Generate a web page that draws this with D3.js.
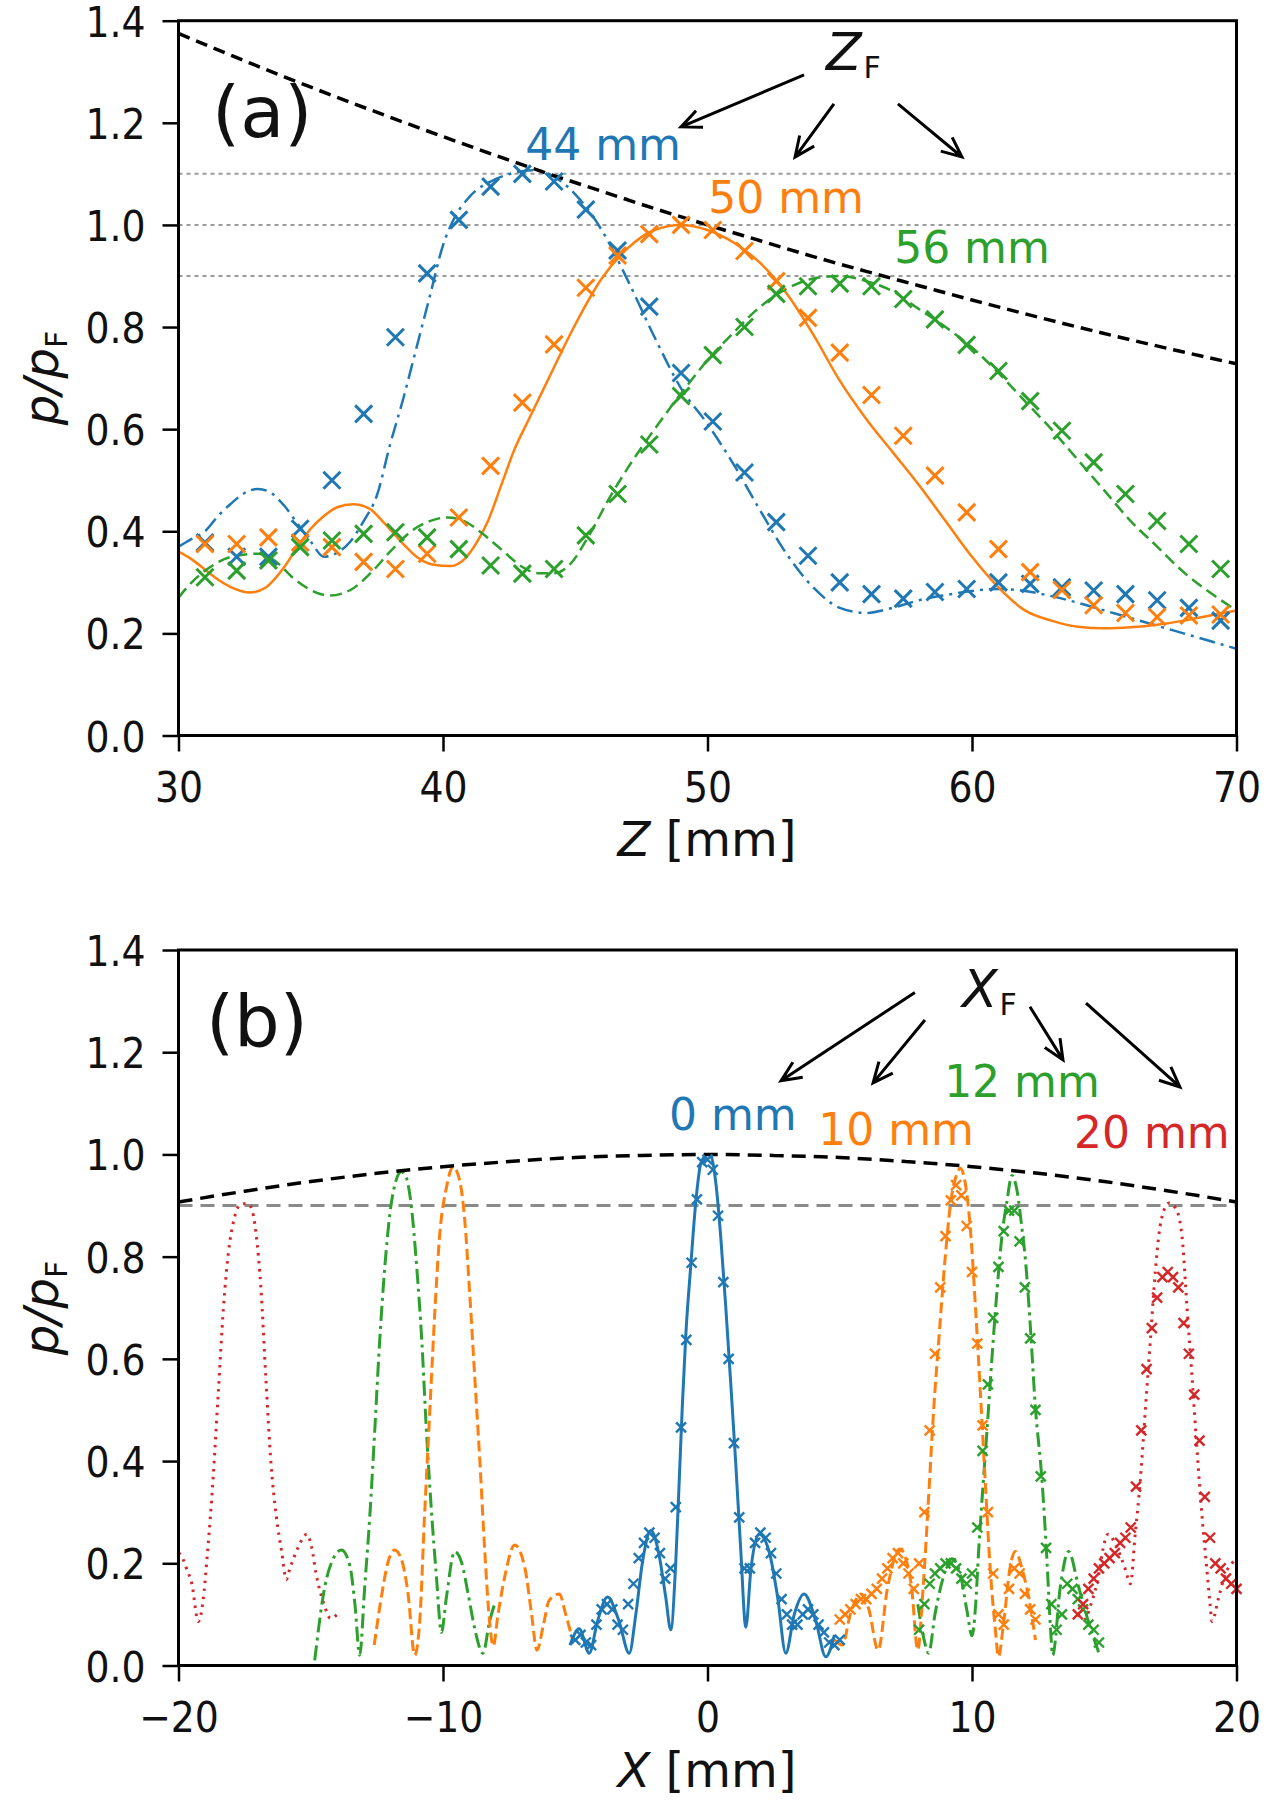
<!DOCTYPE html>
<html><head><meta charset="utf-8">
<script src="https://cdn.jsdelivr.net/npm/d3@7"></script>
<style>body{margin:0;background:#fff}svg{display:block}</style>
</head><body>
<svg id="c" width="1266" height="1800"></svg>
<script>
// ---------------- Panel (a) data ----------------
const yTicks = [0, 0.2, 0.4, 0.6, 0.8, 1.0, 1.2, 1.4];
const zTicks = [30, 40, 50, 60, 70];
const zLabels = ["44 mm", "50 mm", "56 mm"];
const refLevelsA = [1.1, 1.0, 0.9];

const envZ = [30,32,34,36,38,40,42,44,46,48,50,52,54,56,58,60,62,64,66,68,70];
const envP = [1.375,1.332,1.290,1.250,1.211,1.173,1.136,1.100,1.066,1.032,1.000,0.969,0.938,0.909,0.881,0.853,0.826,0.800,0.775,0.751,0.728];

const blueSimZ = [30,30.5,31,31.5,32,32.5,33,33.5,34,34.5,35,35.5,36,36.5,37,37.5,38,38.5,39,39.5,40,40.5,41,42,43,43.5,44,45,46,47,48,49,50,51,52,53,54,55,56,57,58,59,60,61,62,63,64,65,66,67,68,69,70];
const blueSimP = [0.37,0.385,0.40,0.43,0.455,0.475,0.483,0.475,0.45,0.415,0.38,0.35,0.358,0.38,0.42,0.47,0.57,0.66,0.76,0.86,0.96,1.02,1.055,1.09,1.105,1.107,1.10,1.06,0.99,0.89,0.78,0.68,0.61,0.53,0.44,0.355,0.29,0.25,0.24,0.25,0.265,0.275,0.283,0.287,0.283,0.273,0.26,0.245,0.23,0.215,0.2,0.185,0.17];

const orangeSimZ = [30,30.5,31,31.5,32,32.7,33.3,34,34.5,35,35.5,36,36.6,37.2,37.8,38.5,39,39.6,40.3,40.8,41.3,41.7,42.2,42.7,43.25,44,45,46,47,48,49,50,51,52,53,54,55,56,57,58,59,60,61,62,63,64,65,66,67,68,69,70];
const orangeSimP = [0.36,0.345,0.325,0.305,0.29,0.28,0.29,0.33,0.37,0.405,0.43,0.447,0.453,0.445,0.415,0.375,0.35,0.335,0.332,0.345,0.38,0.42,0.49,0.56,0.62,0.70,0.805,0.895,0.955,0.99,1.0,0.99,0.965,0.925,0.865,0.785,0.695,0.62,0.555,0.49,0.42,0.35,0.29,0.245,0.225,0.213,0.21,0.212,0.217,0.225,0.235,0.245];

const greenSimZ = [30,30.5,31.2,32,33,33.7,34.3,35,35.7,36.5,37.3,38,38.8,39.5,40.15,40.8,41.5,42.3,43,43.6,44.2,44.8,45.5,46.3,47,48,49,50,51,52,53,54,55,56,57,58,59,60,61,62,63,64,65,66,67,68,69,70];
const greenSimP = [0.27,0.30,0.33,0.35,0.356,0.34,0.31,0.285,0.274,0.285,0.32,0.36,0.40,0.42,0.427,0.42,0.395,0.36,0.33,0.318,0.318,0.335,0.39,0.466,0.525,0.60,0.67,0.735,0.79,0.84,0.875,0.895,0.90,0.89,0.87,0.835,0.80,0.76,0.71,0.655,0.60,0.54,0.48,0.42,0.37,0.32,0.28,0.245];

const measZ = [31.0,32.2,33.4,34.6,35.8,37.0,38.2,39.4,40.6,41.8,43.0,44.2,45.4,46.6,47.8,49.0,50.2,51.4,52.6,53.8,55.0,56.2,57.4,58.6,59.8,61.0,62.2,63.4,64.6,65.8,67.0,68.2,69.4];
const blueMeasA = [0.378,0.35,0.35,0.405,0.50,0.63,0.78,0.905,1.01,1.075,1.10,1.085,1.03,0.95,0.84,0.71,0.615,0.515,0.418,0.352,0.30,0.277,0.268,0.281,0.287,0.30,0.297,0.29,0.284,0.277,0.265,0.25,0.225];
const orangeMeasA = [0.375,0.375,0.388,0.378,0.369,0.34,0.326,0.356,0.427,0.528,0.652,0.766,0.877,0.94,0.982,1.0,0.99,0.949,0.89,0.818,0.75,0.667,0.587,0.509,0.437,0.365,0.32,0.285,0.255,0.24,0.232,0.235,0.237];
const greenMeasA = [0.31,0.323,0.343,0.369,0.382,0.395,0.398,0.388,0.365,0.333,0.317,0.326,0.392,0.473,0.57,0.665,0.745,0.80,0.865,0.88,0.885,0.88,0.855,0.815,0.765,0.714,0.655,0.597,0.535,0.473,0.42,0.375,0.326];

// ---------------- Panel (b) data ----------------
const xTicksB = [-20, -10, 0, 10, 20];
const xLabels = ["0 mm", "10 mm", "12 mm", "20 mm"];
const refLevelB = 0.9;

const envXb = [-20,-17.5,-15,-12.5,-10,-7.5,-5,-2.5,0,2.5,5,7.5,10,12.5,15,17.5,20];
const envPb = [0.907,0.928,0.947,0.963,0.976,0.986,0.994,0.998,1.0,0.998,0.994,0.986,0.976,0.963,0.947,0.928,0.907];

const blueSimX = [-5.2,-4.85,-4.47,-4.16,-3.78,-3.34,-2.96,-2.71,-2.46,-2.14,-1.83,-1.58,-1.39,-1.2,-1.07,-0.95,-0.82,-0.63,-0.44,-0.25,0,0.13,0.32,0.5,0.69,0.88,1.07,1.26,1.45,1.64,1.95,2.33,2.65,2.96,3.28,3.65,4.1,4.47,4.8];
const blueSimPb = [0.04,0.072,0.024,0.086,0.134,0.086,0.024,0.10,0.202,0.264,0.216,0.134,0.07,0.202,0.36,0.51,0.647,0.784,0.908,0.983,1.0,0.997,0.942,0.839,0.702,0.551,0.394,0.223,0.075,0.188,0.257,0.223,0.134,0.024,0.10,0.14,0.086,0.017,0.06];

const orangeSimLX = [-12.6,-12.33,-12.08,-11.83,-11.58,-11.32,-11.07,-10.88,-10.7,-10.5,-10.3,-10.13,-9.87,-9.62,-9.37,-9.18,-9.0,-8.8,-8.6,-8.42,-8.24,-8.1,-7.92,-7.66,-7.29,-6.9,-6.65,-6.45,-6.2,-5.99,-5.6,-5.36,-5.1];
const orangeSimLP = [0.04,0.134,0.202,0.226,0.209,0.14,0.02,0.086,0.29,0.497,0.70,0.839,0.935,0.976,0.949,0.873,0.736,0.565,0.394,0.223,0.086,0.038,0.10,0.175,0.236,0.19,0.10,0.03,0.08,0.127,0.14,0.10,0.05];
const orangeSimRX = [4.8,5.1,5.4,5.8,6.1,6.45,6.8,7.27,7.7,7.95,8.15,8.36,8.55,8.74,8.99,9.18,9.43,9.56,9.75,9.94,10.13,10.32,10.5,10.69,10.88,11.0,11.2,11.45,11.64,11.9,12.14,12.4];
const orangeSimRP = [0.05,0.04,0.10,0.14,0.11,0.03,0.15,0.228,0.16,0.03,0.15,0.33,0.50,0.634,0.80,0.90,0.962,0.973,0.942,0.853,0.702,0.531,0.36,0.188,0.072,0.017,0.086,0.195,0.223,0.188,0.134,0.05];

const greenSimLX = [-14.85,-14.47,-14.15,-13.84,-13.52,-13.33,-13.15,-12.96,-12.77,-12.58,-12.4,-12.2,-12.0,-11.77,-11.58,-11.39,-11.2,-11.0,-10.8,-10.63,-10.44,-10.25,-10.06,-9.87,-9.56,-9.3,-9.05,-8.8,-8.49,-8.24,-8.05];
const greenSimLP = [0.01,0.154,0.209,0.226,0.195,0.12,0.02,0.154,0.29,0.46,0.63,0.78,0.887,0.95,0.966,0.955,0.90,0.784,0.634,0.462,0.305,0.175,0.065,0.134,0.223,0.202,0.14,0.072,0.024,0.086,0.12];
const greenSimRX = [7.95,8.15,8.36,8.6,8.9,9.24,9.55,9.8,10.0,10.13,10.25,10.38,10.57,10.76,10.95,11.13,11.32,11.51,11.7,11.9,12.0,12.2,12.39,12.65,12.84,12.96,13.05,13.34,13.65,14.03,14.4,14.8];
const greenSimRP = [0.12,0.06,0.024,0.1,0.17,0.209,0.18,0.11,0.058,0.113,0.223,0.325,0.462,0.606,0.736,0.84,0.908,0.959,0.93,0.85,0.805,0.668,0.51,0.36,0.2,0.08,0.02,0.154,0.223,0.154,0.086,0.024];

const redSimLX = [-20,-19.9,-19.7,-19.5,-19.25,-19.07,-18.9,-18.7,-18.5,-18.3,-18.12,-17.9,-17.7,-17.45,-17.26,-17.07,-16.88,-16.7,-16.5,-16.3,-16.1,-15.92,-15.8,-15.6,-15.4,-15.15,-14.96,-14.8,-14.5,-14.25,-14.0];
const redSimLP = [0.22,0.216,0.19,0.161,0.086,0.127,0.223,0.36,0.53,0.70,0.805,0.873,0.90,0.904,0.897,0.846,0.736,0.565,0.394,0.291,0.223,0.168,0.188,0.216,0.24,0.257,0.23,0.18,0.12,0.092,0.10];
const redSimRX = [14.0,14.25,14.5,14.8,14.96,15.15,15.4,15.6,15.8,15.99,16.17,16.36,16.55,16.74,16.93,17.06,17.25,17.45,17.7,17.94,18.13,18.32,18.5,18.7,18.88,19.0,19.07,19.33,19.58,19.83,20.0];
const redSimRP = [0.10,0.09,0.12,0.18,0.23,0.257,0.24,0.216,0.188,0.16,0.257,0.36,0.497,0.634,0.77,0.84,0.89,0.905,0.895,0.84,0.70,0.565,0.428,0.29,0.188,0.12,0.086,0.134,0.18,0.2,0.21];

const blueMeasX = [-5.0,-4.8,-4.6,-4.4,-4.2,-4.0,-3.8,-3.6,-3.4,-3.2,-3.0,-2.8,-2.6,-2.4,-2.2,-2.0,-1.8,-1.6,-1.4,-1.2,-1.0,-0.8,-0.6,-0.4,-0.2,0.0,0.2,0.4,0.6,0.8,1.0,1.2,1.4,1.6,1.8,2.0,2.2,2.4,2.6,2.8,3.0,3.2,3.4,3.6,3.8,4.0,4.2,4.4,4.6,4.8,5.0];
const blueMeasB = [0.05,0.06,0.045,0.04,0.08,0.11,0.12,0.11,0.08,0.07,0.12,0.16,0.21,0.24,0.26,0.25,0.22,0.17,0.19,0.31,0.466,0.637,0.788,0.912,0.985,0.99,0.97,0.88,0.75,0.60,0.435,0.29,0.19,0.19,0.24,0.26,0.25,0.22,0.18,0.13,0.10,0.08,0.08,0.10,0.11,0.10,0.08,0.065,0.045,0.04,0.05];
const orangeMeasX = [5.0,5.2,5.4,5.6,5.8,6.0,6.2,6.4,6.6,6.8,7.0,7.2,7.4,7.6,7.8,8.0,8.2,8.4,8.6,8.8,9.0,9.2,9.4,9.6,9.8,10.0,10.2,10.4,10.6,10.8,11.0,11.2,11.4,11.6,11.8,12.0,12.2,12.4];
const orangeMeasB = [0.09,0.10,0.11,0.12,0.13,0.13,0.14,0.15,0.17,0.19,0.21,0.22,0.20,0.18,0.15,0.20,0.30,0.46,0.61,0.74,0.84,0.91,0.94,0.92,0.86,0.77,0.63,0.47,0.30,0.18,0.10,0.08,0.15,0.19,0.18,0.14,0.11,0.09];
const greenMeasX = [8.0,8.2,8.4,8.6,8.8,9.0,9.2,9.4,9.6,9.8,10.0,10.2,10.4,10.6,10.8,11.0,11.2,11.4,11.6,11.8,12.0,12.2,12.4,12.6,12.8,13.0,13.2,13.4,13.6,13.8,14.0,14.2,14.4,14.6,14.8];
const greenMeasB = [0.07,0.12,0.16,0.18,0.19,0.20,0.20,0.19,0.17,0.16,0.18,0.27,0.42,0.55,0.68,0.78,0.85,0.89,0.89,0.83,0.74,0.64,0.50,0.37,0.23,0.12,0.07,0.10,0.16,0.15,0.13,0.11,0.08,0.07,0.045];
const redMeasX = [14.0,14.2,14.4,14.6,14.8,15.0,15.2,15.4,15.6,15.8,16.0,16.2,16.4,16.6,16.8,17.0,17.2,17.4,17.6,17.8,18.0,18.2,18.4,18.6,18.8,19.0,19.2,19.4,19.6,19.8,20.0];
const redMeasB = [0.10,0.12,0.15,0.17,0.19,0.20,0.21,0.22,0.24,0.25,0.27,0.35,0.46,0.58,0.66,0.72,0.76,0.77,0.76,0.74,0.67,0.61,0.53,0.44,0.33,0.25,0.20,0.19,0.17,0.16,0.15];

// ---------------- drawing ----------------
const COL = {blue:'#1f77b4', orange:'#ff7f0e', green:'#2ca02c', red:'#d62728'};
const svg = d3.select('#c');
const L = 178.5, R = 1236.5;
const tickFont = "'DejaVu Sans Condensed','DejaVu Sans',sans-serif";
const textFont = "'DejaVu Sans',sans-serif";
const zip = (a, b) => a.map((v, i) => [v, b[i]]);

function makePanel(id, top, bottom, xDom, xTicks) {
  const x = d3.scaleLinear().domain(xDom).range([L, R]);
  const y = d3.scaleLinear().domain([0, 1.4]).range([bottom, top]);
  const g = svg.append('g');
  g.append('clipPath').attr('id', id).append('rect')
    .attr('x', L).attr('y', top).attr('width', R - L).attr('height', bottom - top);
  const plot = g.append('g').attr('clip-path', `url(#${id})`);
  const ax = g.append('g').attr('transform', `translate(0,${bottom})`)
    .call(d3.axisBottom(x).tickValues(xTicks).tickFormat(d3.format('d')).tickSize(16).tickPadding(21));
  const ay = g.append('g').attr('transform', `translate(${L},0)`)
    .call(d3.axisLeft(y).tickValues(yTicks).tickFormat(d3.format('.1f')).tickSize(16).tickPadding(17));
  [ax, ay].forEach(a => {
    a.select('.domain').remove();
    a.selectAll('line').attr('stroke', '#000').attr('stroke-width', 2.5);
    a.selectAll('text').attr('fill', '#111')
      .style('font-family', tickFont).style('font-size', '42px').style('font-stretch', 'condensed');
  });
  ay.selectAll('text').attr('dy', '0.37em');
  const over = g.append('g');
  g.append('rect').attr('x', L).attr('y', top).attr('width', R - L).attr('height', bottom - top)
    .attr('fill', 'none').attr('stroke', '#000').attr('stroke-width', 3);
  return {x, y, g, plot, over};
}

function drawLine(p, pts, color, width, dash) {
  const line = d3.line().x(d => p.x(d[0])).y(d => p.y(d[1])).curve(d3.curveMonotoneX);
  p.plot.append('path').datum(pts).attr('d', line).attr('fill', 'none')
    .attr('stroke', color).attr('stroke-width', width)
    .attr('stroke-dasharray', dash || null).attr('stroke-linecap', 'butt');
}
function drawCrosses(p, pts, color, s, w) {
  p.over.append('g').selectAll('path').data(pts).join('path')
    .attr('d', d => { const cx = p.x(d[0]), cy = p.y(d[1]);
      return `M${cx - s},${cy - s}L${cx + s},${cy + s}M${cx - s},${cy + s}L${cx + s},${cy - s}`; })
    .attr('stroke', color).attr('stroke-width', w).attr('fill', 'none');
}
function arrow(p, x1, y1, x2, y2) {
  const X1 = p.x(x1), Y1 = p.y(y1), X2 = p.x(x2), Y2 = p.y(y2);
  const a = Math.atan2(Y2 - Y1, X2 - X1), h = 22, w = 0.42;
  const d = `M${X1},${Y1}L${X2},${Y2}` +
    `M${X2 - h * Math.cos(a - w)},${Y2 - h * Math.sin(a - w)}L${X2},${Y2}L${X2 - h * Math.cos(a + w)},${Y2 - h * Math.sin(a + w)}`;
  p.over.append('path').attr('d', d).attr('stroke', '#000').attr('stroke-width', 3).attr('fill', 'none')
    .attr('stroke-linejoin', 'miter');
}
function label(p, xv, yv, txt, color, anchor) {
  p.over.append('text').attr('x', p.x(xv)).attr('y', p.y(yv)).attr('text-anchor', anchor || 'middle')
    .attr('fill', color).style('font-family', textFont).style('font-size', '44px').text(txt);
}
function subLabel(p, xv, yv, main) {
  const t = p.over.append('text').attr('x', p.x(xv)).attr('y', p.y(yv))
    .style('font-family', textFont).attr('fill', '#111');
  t.append('tspan').style('font-size', '52px').style('font-style', 'italic').text(main);
  t.append('tspan').style('font-size', '30px').attr('dx', 2).attr('dy', 8).text('F');
}
function yTitle(cy) {
  const t = svg.append('text').attr('transform', `translate(58,${cy}) rotate(-90)`)
    .attr('text-anchor', 'middle').style('font-family', textFont).style('font-size', '48px').attr('fill', '#111');
  t.append('tspan').style('font-style', 'italic').text('p/p');
  t.append('tspan').style('font-size', '30px').attr('dy', 9).text('F');
}
function xTitle(cx, by, v) {
  const t = svg.append('text').attr('x', cx).attr('y', by).attr('text-anchor', 'middle')
    .style('font-family', textFont).style('font-size', '48px').attr('fill', '#111');
  t.append('tspan').style('font-style', 'italic').text(v);
  t.append('tspan').text(' [mm]');
}

// ---- Panel (a)
const A = makePanel('clipA', 20.7, 735.5, [30, 70], zTicks);
refLevelsA.forEach(v => drawLine(A, [[30, v], [70, v]], '#9a9a9a', 2, '4,4'));
drawLine(A, zip(blueSimZ, blueSimP), COL.blue, 2.5, '16,6,3,6');
drawLine(A, zip(orangeSimZ, orangeSimP), COL.orange, 2.5);
drawLine(A, zip(greenSimZ, greenSimP), COL.green, 2.5, '12,6');
drawLine(A, zip(envZ, envP), '#000', 3.5, '12,7');
drawCrosses(A, zip(measZ, blueMeasA), COL.blue, 8.5, 3);
drawCrosses(A, zip(measZ, orangeMeasA), COL.orange, 8.5, 3);
drawCrosses(A, zip(measZ, greenMeasA), COL.green, 8.5, 3);
A.over.append('text').attr('x', A.x(31.27)).attr('y', A.y(1.172))
  .style('font-family', textFont).style('font-size', '72px').attr('fill', '#111').text('(a)');
subLabel(A, 54.48, 1.303, 'Z');
arrow(A, 53.65, 1.294, 49.0, 1.192);
arrow(A, 54.78, 1.237, 53.31, 1.133);
arrow(A, 57.2, 1.237, 59.62, 1.133);
label(A, 46.05, 1.127, zLabels[0], COL.blue);
label(A, 52.97, 1.023, zLabels[1], COL.orange);
label(A, 60.0, 0.925, zLabels[2], COL.green);
yTitle(378);
xTitle(707, 856, 'Z');

// ---- Panel (b)
const B = makePanel('clipB', 950, 1665.5, [-20, 20], xTicksB);
drawLine(B, [[-20, refLevelB], [20, refLevelB]], '#8a8a8a', 3, '14,8');
drawLine(B, zip(redSimLX, redSimLP), COL.red, 3, '2.5,5.5');
drawLine(B, zip(redSimRX, redSimRP), COL.red, 3, '2.5,5.5');
drawLine(B, zip(greenSimLX, greenSimLP), COL.green, 3, '15,5,3,5');
drawLine(B, zip(greenSimRX, greenSimRP), COL.green, 3, '15,5,3,5');
drawLine(B, zip(orangeSimLX, orangeSimLP), COL.orange, 3, '11,5');
drawLine(B, zip(orangeSimRX, orangeSimRP), COL.orange, 3, '11,5');
drawLine(B, zip(blueSimX, blueSimPb), COL.blue, 3);
drawLine(B, zip(envXb, envPb), '#000', 3.5, '14,8');
drawCrosses(B, zip(blueMeasX, blueMeasB), COL.blue, 5, 2.4);
drawCrosses(B, zip(orangeMeasX, orangeMeasB), COL.orange, 5, 2.4);
drawCrosses(B, zip(greenMeasX, greenMeasB), COL.green, 5, 2.4);
drawCrosses(B, zip(redMeasX, redMeasB), COL.red, 5, 2.4);
B.over.append('text').attr('x', B.x(-18.96)).attr('y', B.y(1.212))
  .style('font-family', textFont).style('font-size', '72px').attr('fill', '#111').text('(b)');
subLabel(B, 9.62, 1.289, 'X');
arrow(B, 7.84, 1.317, 2.78, 1.144);
arrow(B, 8.22, 1.263, 6.26, 1.14);
arrow(B, 12.19, 1.289, 13.44, 1.185);
arrow(B, 14.31, 1.296, 17.86, 1.132);
label(B, 0.96, 1.048, xLabels[0], COL.blue);
label(B, 7.13, 1.019, xLabels[1], COL.orange);
label(B, 11.89, 1.112, xLabels[2], COL.green);
label(B, 16.8, 1.013, xLabels[3], COL.red);
yTitle(1308);
xTitle(707, 1787, 'X');
</script>
</body></html>
